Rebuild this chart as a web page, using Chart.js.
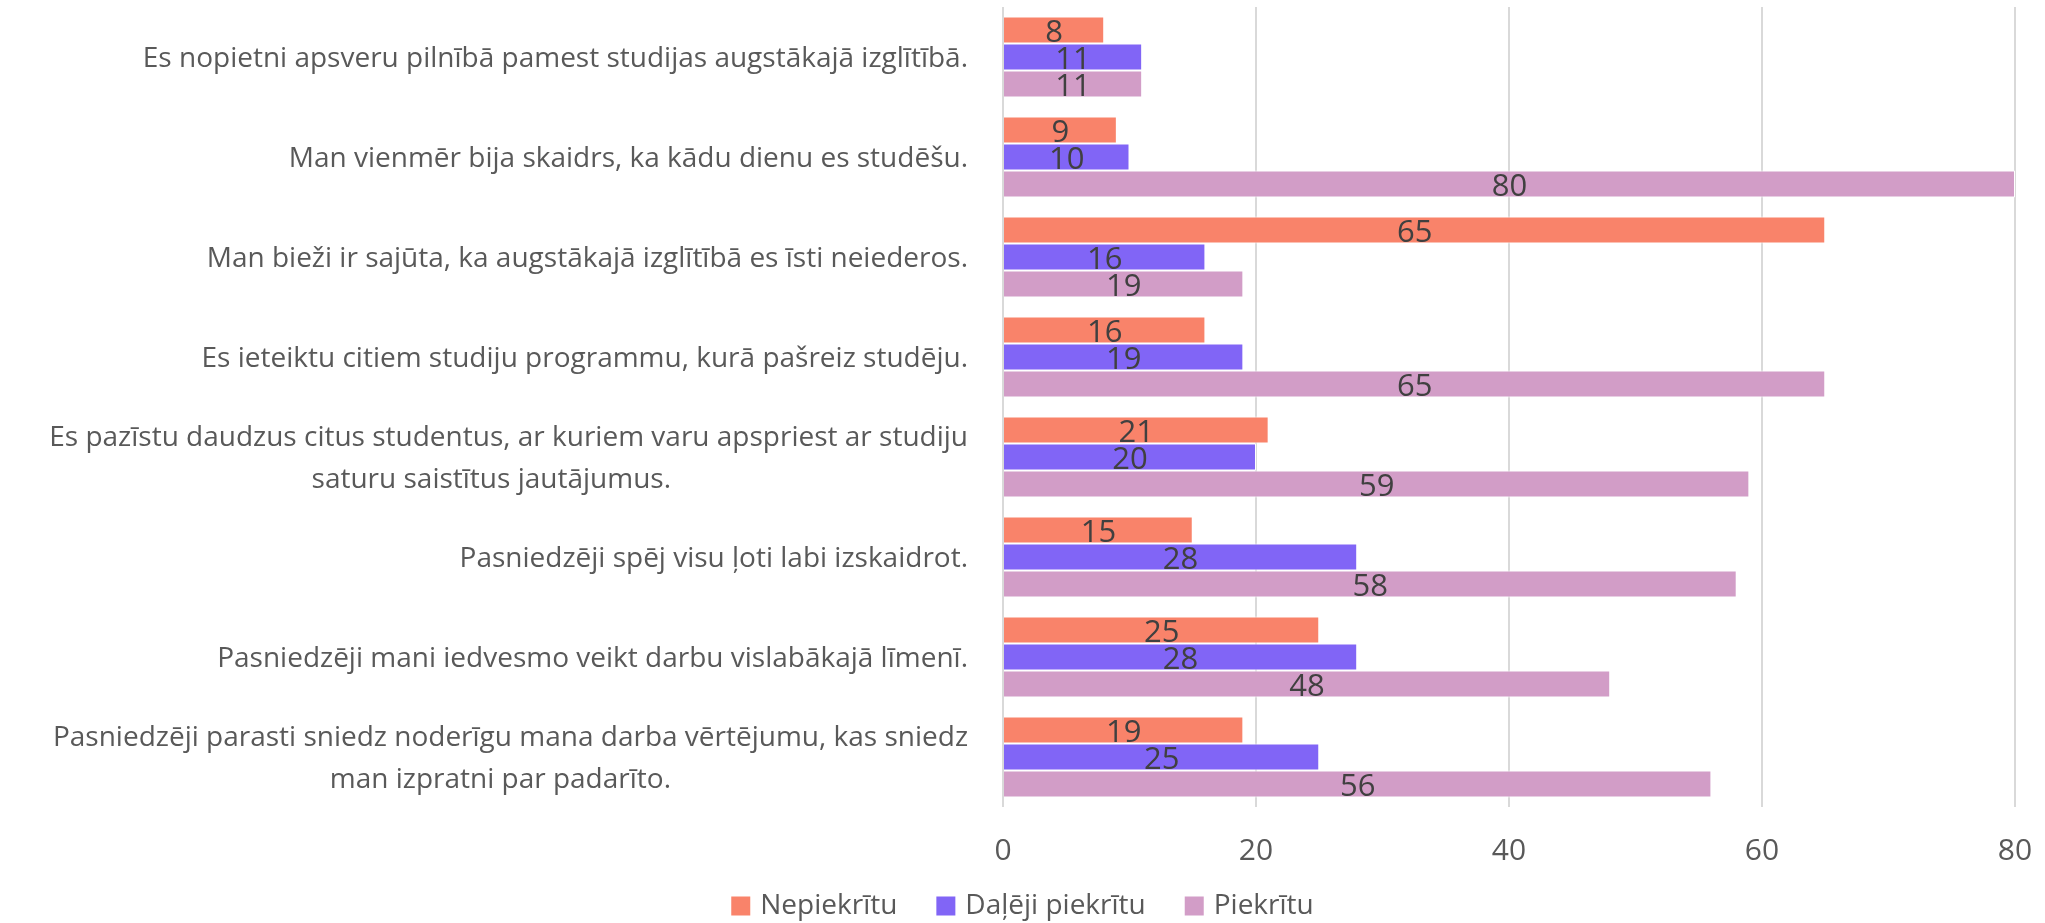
<!DOCTYPE html>
<html><head><meta charset="utf-8">
<script src="https://cdn.jsdelivr.net/npm/chart.js@4/dist/chart.umd.min.js"></script>
<style>html,body{margin:0;padding:0;background:#fff;overflow:hidden}</style>
</head><body>
<canvas id="c" width="2045" height="923"></canvas>
<script>
const categories = [
  ["Es nopietni apsveru pilnībā pamest studijas augstākajā izglītībā."],
  ["Man vienmēr bija skaidrs, ka kādu dienu es studēšu."],
  ["Man bieži ir sajūta, ka augstākajā izglītībā es īsti neiederos."],
  ["Es ieteiktu citiem studiju programmu, kurā pašreiz studēju."],
  ["Es pazīstu daudzus citus studentus, ar kuriem varu apspriest ar studiju", "saturu saistītus jautājumus."],
  ["Pasniedzēji spēj visu ļoti labi izskaidrot."],
  ["Pasniedzēji mani iedvesmo veikt darbu vislabākajā līmenī."],
  ["Pasniedzēji parasti sniedz noderīgu mana darba vērtējumu, kas sniedz", "man izpratni par padarīto."]
];
const seriesNames = ["Nepiekrītu", "Daļēji piekrītu", "Piekrītu"];
const nepiekritu = [8, 9, 65, 16, 21, 15, 25, 19];
const dalejiPiekritu = [11, 10, 16, 19, 20, 28, 28, 25];
const piekritu = [11, 80, 19, 65, 59, 58, 48, 56];
const xTickValues = [0, 20, 40, 60, 80];

const FONT = '"Open Sans", "Noto Sans", sans-serif';
const colors = ['#F9836A', '#8165F6', '#D29DC7'];

const yLabelPlugin = {
  id: 'yLabels',
  afterDraw(chart) {
    const ctx = chart.ctx;
    const y = chart.scales.y;
    ctx.save();
    ctx.font = '28px ' + FONT;
    ctx.fillStyle = '#595959';
    ctx.textAlign = 'right';
    ctx.textBaseline = 'middle';
    categories.forEach((lines, i) => {
      const cy = y.getPixelForTick(i) + 2;
      if (lines.length === 1) {
        ctx.fillText(lines[0], 968, cy);
      } else {
        ctx.fillText(lines[0], 968, cy - 21);
        ctx.fillText(lines[1], 671, cy + 21);
      }
    });
    ctx.restore();
  }
};

const valueLabelPlugin = {
  id: 'valueLabels',
  afterDatasetsDraw(chart) {
    const ctx = chart.ctx;
    ctx.save();
    ctx.font = '31px ' + FONT;
    ctx.fillStyle = '#404040';
    ctx.textAlign = 'center';
    ctx.textBaseline = 'middle';
    chart.data.datasets.forEach((ds, di) => {
      const meta = chart.getDatasetMeta(di);
      meta.data.forEach((bar, i) => {
        const cx = (bar.x + bar.base) / 2;
        ctx.fillText(String(ds.data[i]), cx, bar.y + 3);
      });
    });
    ctx.restore();
  }
};

// Legend drawn from the chart's dataset labels/colours
const legendPlugin = {
  id: 'customLegend',
  afterDraw(chart) {
    const ctx = chart.ctx;
    ctx.save();
    ctx.font = '28px ' + FONT;
    ctx.textBaseline = 'middle';
    ctx.textAlign = 'left';
    const box = 19, gapText = 10, gapItem = 39;
    const items = chart.data.datasets.map(ds => ({ text: ds.label, color: ds.backgroundColor, w: ctx.measureText(ds.label).width }));
    const total = items.reduce((s, it) => s + box + gapText + it.w, 0) + gapItem * (items.length - 1);
    let x = chart.width / 2 - total / 2;
    const cy = 906;
    items.forEach(it => {
      ctx.fillStyle = it.color;
      ctx.fillRect(x, cy - box / 2, box, box);
      ctx.fillStyle = '#595959';
      ctx.fillText(it.text, x + box + gapText, cy);
      x += box + gapText + it.w + gapItem;
    });
    ctx.restore();
  }
};

const seriesData = [nepiekritu, dalejiPiekritu, piekritu];

new Chart(document.getElementById('c'), {
  type: 'bar',
  data: {
    labels: categories.map(l => l.join(' ')),
    datasets: seriesNames.map((name, i) => ({
      label: name,
      data: seriesData[i],
      backgroundColor: colors[i],
      borderColor: '#ffffff',
      borderWidth: 1,
      borderSkipped: 'start',
      categoryPercentage: 0.81,
      barPercentage: 1.0
    }))
  },
  options: {
    indexAxis: 'y',
    responsive: false,
    animation: false,
    devicePixelRatio: 1,
    layout: { padding: { top: 7, right: 30, left: 0, bottom: 52 } },
    scales: {
      x: {
        min: 0, max: 80,
        afterBuildTicks: (scale) => { scale.ticks = xTickValues.map(v => ({ value: v })); },
        ticks: { font: { family: FONT, size: 30 }, color: '#595959', padding: 26 },
        grid: { color: '#d9d9d9', lineWidth: 2, drawTicks: false },
        border: { display: false },
        afterFit: (scale) => { scale.height = 64; scale.paddingLeft = 0; scale.paddingRight = 0; }
      },
      y: {
        ticks: { display: false },
        grid: { display: false },
        border: { display: false },
        afterFit: (scale) => { scale.width = 1003; }
      }
    },
    plugins: {
      legend: { display: false },
      tooltip: { enabled: false }
    }
  },
  plugins: [yLabelPlugin, valueLabelPlugin, legendPlugin]
});
</script>
</body></html>
